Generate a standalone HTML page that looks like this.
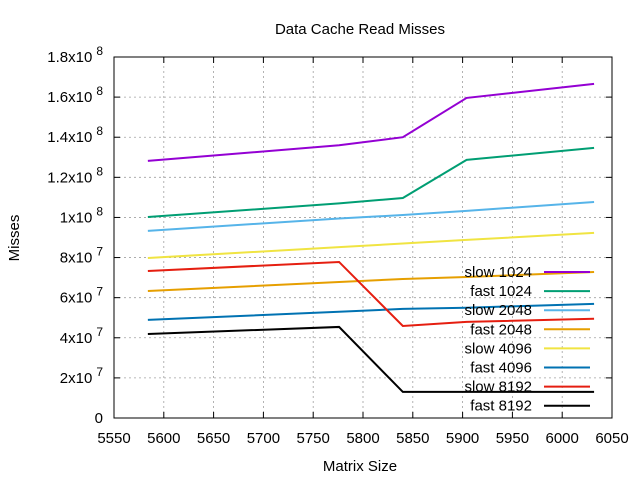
<!DOCTYPE html>
<html><head><meta charset="utf-8"><style>
body{margin:0;background:#fff}
svg{display:block;font-family:"Liberation Sans",sans-serif}
</style></head><body>
<svg id="chart" width="640" height="480">
<rect width="640" height="480" fill="#fff"/>
<text x="360" y="34" font-size="15" text-anchor="middle">Data Cache Read Misses</text>
<text x="360" y="471" font-size="15" text-anchor="middle">Matrix Size</text>
<text x="19" y="238" font-size="15" text-anchor="middle" transform="rotate(-90 19 238)">Misses</text>
<g id="grid"></g><g id="axes"></g><g id="series"></g><g id="legend"></g>
</svg>
<script>
const xTicks=[5550,5600,5650,5700,5750,5800,5850,5900,5950,6000,6050];
const yTicks=[0,2,4,6,8,10,12,14,16,18];
const yTickLabels=["0","2x10 7","4x10 7","6x10 7","8x10 7","1x10 8","1.2x10 8","1.4x10 8","1.6x10 8","1.8x10 8"];
const sizes=[5584,5776,5840,5904,6032];
const seriesNames=["slow 1024","fast 1024","slow 2048","fast 2048","slow 4096","fast 4096","slow 8192","fast 8192"];
const slow1024=[12.82,13.6,14.0,15.96,16.66];
const fast1024=[10.02,10.7,10.97,12.87,13.47];
const slow2048=[9.33,9.95,10.12,10.33,10.77];
const fast2048=[6.33,6.78,6.93,7.03,7.28];
const slow4096=[7.98,8.52,8.7,8.88,9.23];
const fast4096=[4.89,5.3,5.44,5.5,5.69];
const slow8192=[7.33,7.78,4.59,4.79,4.95];
const fast8192=[4.19,4.54,1.3,1.3,1.3];
const colors=["#9400d3","#009e73","#56b4e9","#e69f00","#f0e442","#0072b2","#e51e10","#000000"];
const allSeries=[slow1024,fast1024,slow2048,fast2048,slow4096,fast4096,slow8192,fast8192];
const X0=114,X1=612,Y0=418,Y1=57;
const sx=v=>X0+(v-5550)/500*(X1-X0);
const sy=v=>Y0-v/18*(Y0-Y1);
const NS="http://www.w3.org/2000/svg";
function mk(t,a,p){const e=document.createElementNS(NS,t);for(const k in a)e.setAttribute(k,a[k]);p.appendChild(e);return e;}
const grid=document.getElementById('grid'),axes=document.getElementById('axes'),ser=document.getElementById('series'),leg=document.getElementById('legend');
xTicks.forEach((t,i)=>{const x=sx(t);
 if(i>0&&i<xTicks.length-1){const g=mk('line',{x1:x,x2:x,y1:Y0,y2:Y1,stroke:'#a0a0a0','stroke-dasharray':'2,3','stroke-width':0.8},grid);}
 mk('line',{x1:x,x2:x,y1:Y0,y2:Y0-6,stroke:'#000'},axes);mk('line',{x1:x,x2:x,y1:Y1,y2:Y1+6,stroke:'#000'},axes);
 const l=mk('text',{x:x,y:Y0+25,'font-size':15,'text-anchor':'middle'},axes);l.textContent=t;
 });
yTicks.forEach((t,i)=>{const y=sy(t);
 if(i>0&&i<yTicks.length-1){const g=mk('line',{x1:X0,x2:X1,y1:y,y2:y,stroke:'#a0a0a0','stroke-dasharray':'2,3','stroke-width':0.8},grid);}
 mk('line',{x1:X0,x2:X0+6,y1:y,y2:y,stroke:'#000'},axes);mk('line',{x1:X1,x2:X1-6,y1:y,y2:y,stroke:'#000'},axes);
 const parts=yTickLabels[i].split(' ');
 const l=mk('text',{x:103,y:y+5,'font-size':15,'text-anchor':'end'},axes);
 
 if(parts.length>1){const a=mk('tspan',{},l);a.textContent=parts[0];const b=mk('tspan',{dx:4,dy:-7,'font-size':12},l);b.textContent=parts[1];}
 else l.textContent=parts[0];});
const fr=mk('rect',{x:X0,y:Y1,width:X1-X0,height:Y0-Y1,fill:'none',stroke:'#000'},axes);

allSeries.forEach((vals,si)=>{
 const pl=mk('polyline',{points:vals.map((v,i)=>sx(sizes[i])+','+sy(v)).join(' '),fill:'none',stroke:colors[si],'stroke-width':2},ser);
 
 const y=272+si*19.1;
 const g=mk('g',{},leg);
 
 const tx=mk('text',{x:532,y:y+5,'font-size':15,'text-anchor':'end'},g);tx.textContent=seriesNames[si];
 mk('line',{x1:544,x2:590,y1:y,y2:y,stroke:colors[si],'stroke-width':2},g);
});
</script>
</body></html>
